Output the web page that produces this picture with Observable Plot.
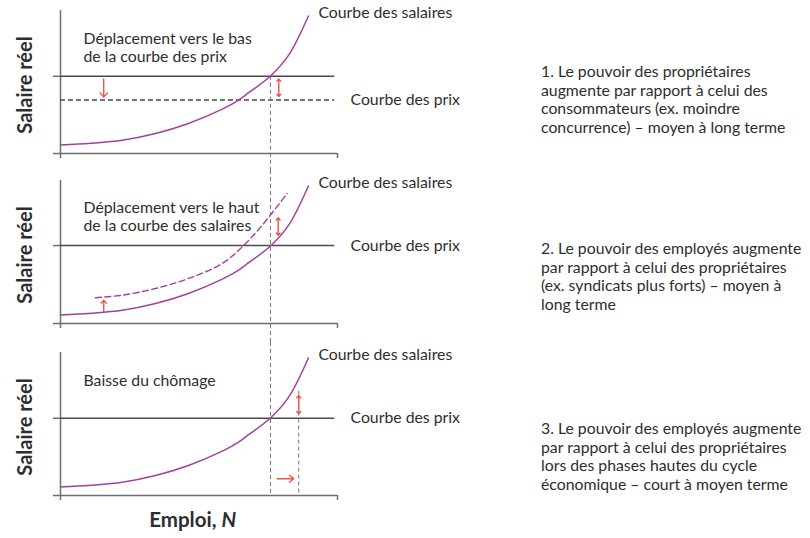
<!DOCTYPE html>
<html><head><meta charset="utf-8">
<script src="https://cdn.jsdelivr.net/npm/d3@7"></script>
<script src="https://cdn.jsdelivr.net/npm/@observablehq/plot@0.6"></script>
<style>
body{margin:0;background:#fff;}
#wrap{position:relative;width:810px;height:538px;font-family:Lato,sans-serif;overflow:hidden;}
#wrap svg{display:block;}
.note{position:absolute;left:541px;font-size:15.8px;line-height:18.7px;color:#2e2e2e;white-space:nowrap;}
</style></head><body><div id="wrap"></div>
<script>
// Wage-setting curve (employment N, real wage)
const wageN = [0, 1.1, 2.23, 3.43, 4.62, 5.84, 6.43, 6.79, 7.58, 8.23, 8.95];
const wageW = [0.6, 0.72, 0.93, 1.4, 2.1, 3.1, 3.74, 4.25, 5.42, 6.86, 9.62];
// Shifted (dashed) wage-setting curve, panel 2
const shiftN = [1.26, 2.23, 3.43, 4.63, 5.84, 6.56, 7.28, 8.18];
const shiftW = [1.8, 1.98, 2.45, 3.15, 4.2, 5.36, 6.87, 9.09];
// Price-setting curve levels per panel
const priceLevel = [5.4, 5.45, 5.4];
const lowerPrice = 3.74;
const equilibriumN = 7.58;
const newN = 8.6;
const priceEndN = 9.9;
// Text
const labelWage = "Courbe des salaires";
const labelPrice = "Courbe des prix";
const yLabel = "Salaire réel";
const annotations = ["Déplacement vers le bas\nde la courbe des prix", "Déplacement vers le haut\nde la courbe des salaires", "Baisse du chômage"];
const notes = [
  ["1. Le pouvoir des propriétaires", "augmente par rapport à celui des", "consommateurs (ex. moindre", "concurrence) – moyen à long terme"],
  ["2. Le pouvoir des employés augmente", "par rapport à celui des propriétaires", "(ex. syndicats plus forts) – moyen à", "long terme"],
  ["3. Le pouvoir des employés augmente", "par rapport à celui des propriétaires", "lors des phases hautes du cycle", "économique – court à moyen terme"]
];
// Red arrows per panel: [x1, y1, x2, y2, double]
const arrows1 = [[1.56, 5.22, 1.56, 3.94, false], [7.88, 5.22, 7.88, 3.99, true]];
const arrows2 = [[1.56, 0.82, 1.56, 1.63, false], [7.86, 6.17, 7.86, 7.39, true]];
const arrows3 = [[8.6, 5.71, 8.6, 6.99, true], [7.82, 1.17, 8.42, 1.17, false]];

const PURPLE = "#a3409f", RED = "#e8574e", AXIS = "#6e6e6e", LINE = "#4a4a4a", TXT = "#2e2e2e";
const FS = 15.8;
const wageCurve = wageN.map((n, i) => ({n, w: wageW[i]}));
const shiftCurve = shiftN.map((n, i) => ({n, w: shiftW[i]}));

function arrowData(list) {
  const out = [];
  for (const [x1, y1, x2, y2, dbl] of list) {
    if (dbl) {
      const mx = (x1 + x2) / 2, my = (y1 + y2) / 2;
      out.push({x1: mx, y1: my, x2: x1, y2: y1}, {x1: mx, y1: my, x2, y2});
    } else out.push({x1, y1, x2, y2});
  }
  return out;
}

function panel(i, height, extra) {
  const base = [
    Plot.ruleX([0], {y1: 0, y2: 10, stroke: AXIS, strokeWidth: 1.5}),
    Plot.ruleY([0], {x1: 0, x2: 10, stroke: AXIS, strokeWidth: 1.5}),
    Plot.axisY({ticks: [0, priceLevel[i]], tickSize: 7, tickFormat: () => "", label: null, stroke: AXIS, strokeWidth: 1.5}),
    Plot.axisX({ticks: [0, 10], tickSize: 5, tickFormat: () => "", label: null, stroke: AXIS, strokeWidth: 1.5}),
    Plot.ruleY([priceLevel[i]], {x1: 0, x2: priceEndN, stroke: LINE, strokeWidth: 1.5}),
    ...extra,
    Plot.line(wageCurve, {x: "n", y: "w", stroke: PURPLE, strokeWidth: 1.5, curve: "catmull-rom"}),
    Plot.text([labelWage], {x: 9.31, y: 9.86, text: d => d, textAnchor: "start", fontSize: FS, fill: TXT}),
    Plot.text([yLabel], {frameAnchor: "left", dx: -35, dy: 3, rotate: -90, textAnchor: "middle", text: d => d, fontSize: 20, fontWeight: "bold", fill: TXT})
  ];
  return Plot.plot({
    width: 470, height,
    marginLeft: 60, marginRight: 133, marginTop: 10, marginBottom: height - 153,
    x: {domain: [0, 10], axis: null},
    y: {domain: [0, 10], axis: null},
    style: {fontFamily: "Lato, sans-serif", fontSize: FS + "px", background: "transparent", overflow: "hidden"},
    marks: base
  });
}

const redArrow = (list) => Plot.arrow(arrowData(list), {x1: "x1", y1: "y1", x2: "x2", y2: "y2", stroke: RED, strokeWidth: 1.4, headLength: 6, headAngle: 80});

const p1 = panel(0, 170, [
  Plot.ruleY([lowerPrice], {x1: 0, x2: priceEndN, stroke: LINE, strokeWidth: 1.4, strokeDasharray: "5,3"}),
  Plot.ruleX([equilibriumN], {y1: priceLevel[0], y2: -1.19, stroke: "#777", strokeWidth: 1, strokeDasharray: "4,3"}),
  Plot.text([labelPrice], {x: 10.47, y: lowerPrice, text: d => d, textAnchor: "start", fontSize: FS, fill: TXT}),
  Plot.text([annotations[0]], {x: 0.83, y: 7.41, text: d => d, textAnchor: "start", lineAnchor: "middle", lineHeight: 1.15, fontSize: FS, fill: TXT}),
  redArrow(arrows1)
]);
const p2 = panel(1, 172, [
  Plot.ruleX([equilibriumN], {y1: 10.7, y2: -1.33, stroke: "#777", strokeWidth: 1, strokeDasharray: "4,3"}),
  Plot.line(shiftCurve, {x: "n", y: "w", stroke: PURPLE, strokeWidth: 1.4, strokeDasharray: "6,3.5", curve: "catmull-rom"}),
  Plot.text([labelPrice], {x: 10.47, y: priceLevel[1], text: d => d, textAnchor: "start", fontSize: FS, fill: TXT}),
  Plot.text([annotations[1]], {x: 0.83, y: 7.48, text: d => d, textAnchor: "start", lineAnchor: "middle", lineHeight: 1.15, fontSize: FS, fill: TXT}),
  redArrow(arrows2)
]);
const p3 = panel(2, 196, [
  Plot.ruleX([equilibriumN], {y1: 10.7, y2: 0, stroke: "#777", strokeWidth: 1, strokeDasharray: "4,3"}),
  Plot.ruleX([newN], {y1: 7.3, y2: 0, stroke: "#777", strokeWidth: 1, strokeDasharray: "4,3"}),
  Plot.text([labelPrice], {x: 10.47, y: priceLevel[2], text: d => d, textAnchor: "start", fontSize: FS, fill: TXT}),
  Plot.text([annotations[2]], {x: 0.83, y: 8.04, text: d => d, textAnchor: "start", lineAnchor: "middle", fontSize: FS, fill: TXT}),
  Plot.text(["Emploi,"], {x: 5.63, y: -1.75, text: d => d, textAnchor: "end", fontSize: 20.5, fontWeight: "bold", fill: TXT}),
  Plot.text(["N"], {x: 5.81, y: -1.75, text: d => d, textAnchor: "start", fontSize: 20.5, fontWeight: "bold", fontStyle: "italic", fill: TXT}),
  redArrow(arrows3)
]);

const wrap = document.getElementById("wrap");
[p1, p2, p3].forEach(p => wrap.appendChild(p));
const noteTops = [62, 239, 419];
notes.forEach((lines, i) => {
  const d = document.createElement("div");
  d.className = "note";
  d.style.top = noteTops[i] + "px";
  d.innerHTML = lines.join("<br>");
  wrap.appendChild(d);
});
</script></body></html>
